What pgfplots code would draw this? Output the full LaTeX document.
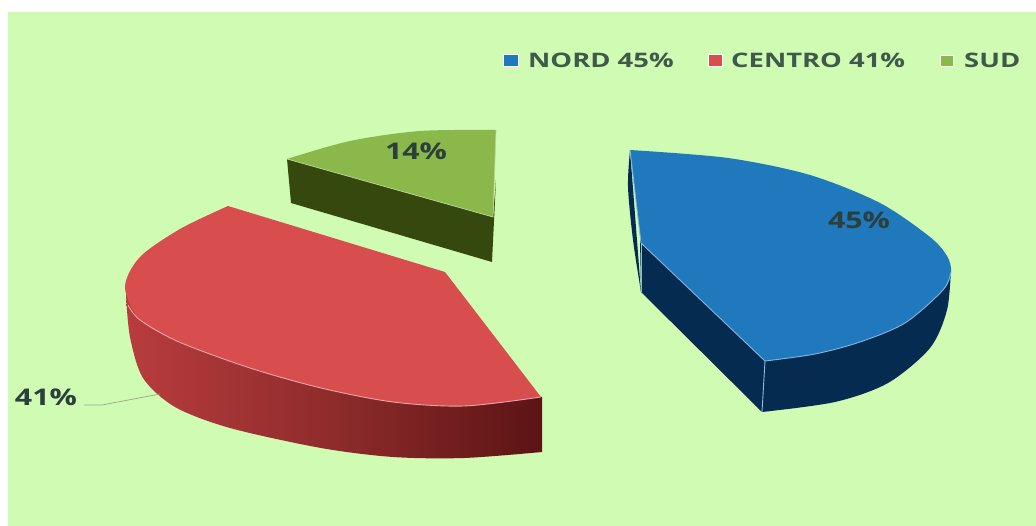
\documentclass[border=0pt]{standalone}
\usepackage{graphicx}
\usepackage{pgfplots}
\pgfplotsset{compat=1.18}
\usepackage{fontspec}
\setmainfont{Open Sans}
\definecolor{bg}{HTML}{D0FBB2}
\definecolor{bluetop}{HTML}{2079BC}
\definecolor{blueside}{HTML}{052C50}
\definecolor{redtop}{HTML}{D84D4D}
\definecolor{redl}{HTML}{B83C3E}
\definecolor{redm}{HTML}{8E2B2B}
\definecolor{redr}{HTML}{5C1414}
\definecolor{greentop}{HTML}{8BB84A}
\definecolor{greenside}{HTML}{35490F}
\definecolor{legtxt}{HTML}{3F5A4A}
\definecolor{lbl}{HTML}{2C3F3C}
\newcommand{\legt}[1]{\scalebox{1.37}[1]{#1}}
\newcommand{\lblt}[1]{\scalebox{1.32}[1]{#1}}
\begin{document}
\begin{tikzpicture}
\begin{axis}[x=1pt,y=1pt,y dir=reverse,xmin=0,xmax=1036,ymin=0,ymax=526,hide axis,
  scale only axis,clip=true]
% page and panel
\addplot[fill=white,draw=none] coordinates {(0,0)(1036,0)(1036,526)(0,526)} --cycle;
\addplot[fill=bg,draw=none] coordinates {(8,12)(1036,12)(1036,526)(8,526)} --cycle;
% NORD side
\addplot[fill=blueside,draw=none,smooth] coordinates {(630,150)(628,187)(633,240)(641,292)} --cycle;
\addplot[fill=blueside,draw=none,smooth] coordinates {(951,268)(947,310)(930,348)(888,383)(835,402)(762,412)} -- (axis cs:641,292) -- (axis cs:640,240) -- cycle;
% NORD top
\addplot[fill=bluetop,draw=none,smooth] coordinates {(630,150)(728,158)(810,175)(880,203)(930,237)(947,256)(951,272)(943,290)(905,323)(860,342)(815,354)(765,361)} -- (axis cs:641,243) -- cycle;
\addplot[draw=bluetop!55!white,line width=0.9pt,smooth] coordinates {(951,272)(943,290)(905,323)(860,342)(815,354)(765,361)};
\addplot[draw=bluetop!55!white,line width=0.9pt] coordinates {(765,361)(641,243)(630,150)};
\addplot[draw=bluetop!50!white,line width=0.9pt] coordinates {(765,361)(762,412)};
\addplot[draw=bluetop!50!white,line width=0.7pt] coordinates {(641,243)(641,292)};
% SUD side
\addplot[fill=greenside,draw=none] coordinates {(287,159)(493,217)(496,180)(492,262)(291,203)} --cycle;
% SUD top
\addplot[fill=greentop,draw=none,smooth] coordinates {(496,130)(420,131)(350,141)(287,159)} -- (axis cs:493,217) -- cycle;
\addplot[draw=greentop!60!white,line width=0.7pt] coordinates {(287,159)(493,217)(496,130)};
% CENTRO side
\addplot[draw=none,left color=redl,right color=redr,middle color=redm,smooth]
  coordinates {(126,295)(130,337)(143,378)(175,407)(230,428)(321,448)(393,457)(464,458)(542,452)} -- (axis cs:542,397) -- cycle;
% CENTRO top
\addplot[fill=redtop,draw=none,smooth] coordinates {(541,397)(464,406)(393,402)(321,388)(250,368)(179,342)(140,320)(125,287)(140,257)(180,229)(228,206)} -- (axis cs:445,272) -- cycle;
\addplot[draw=redtop!50!white,line width=0.9pt,smooth] coordinates {(541,397)(464,406)(393,402)(321,388)(250,368)(179,342)(140,320)(128,305)};
% leader
\addplot[draw=gray!70!bg,line width=0.7pt] coordinates {(84,405)(102,405)(160,394)};
% legend keys
\addplot[fill=bluetop,draw=white,line width=0.8pt] coordinates {(503,54)(518,54)(518,66)(503,66)} --cycle;
\addplot[fill=redtop,draw=white,line width=0.8pt] coordinates {(708,54)(722,54)(722,66)(708,66)} --cycle;
\addplot[fill=greentop,draw=white,line width=0.8pt] coordinates {(940,55)(953,55)(953,66)(940,66)} --cycle;
% texts
\node[anchor=west,font=\bfseries\fontsize{20}{20}\selectfont,text=legtxt,inner sep=0pt] at (axis cs:528,60) {\legt{NORD 45\%}};
\node[anchor=west,font=\bfseries\fontsize{20}{20}\selectfont,text=legtxt,inner sep=0pt] at (axis cs:731,60) {\legt{CENTRO 41\%}};
\node[anchor=west,font=\bfseries\fontsize{20}{20}\selectfont,text=legtxt,inner sep=0pt] at (axis cs:964,60) {\legt{SUD}};
\node[font=\bfseries\fontsize{23}{23}\selectfont,text=lbl,inner sep=0pt] at (axis cs:859,220) {\lblt{45\%}};
\node[font=\bfseries\fontsize{23}{23}\selectfont,text=lbl,inner sep=0pt] at (axis cs:416,151) {\lblt{14\%}};
\node[font=\bfseries\fontsize{23}{23}\selectfont,text=lbl,inner sep=0pt] at (axis cs:46,397) {\lblt{41\%}};
\end{axis}
\end{tikzpicture}
\end{document}
